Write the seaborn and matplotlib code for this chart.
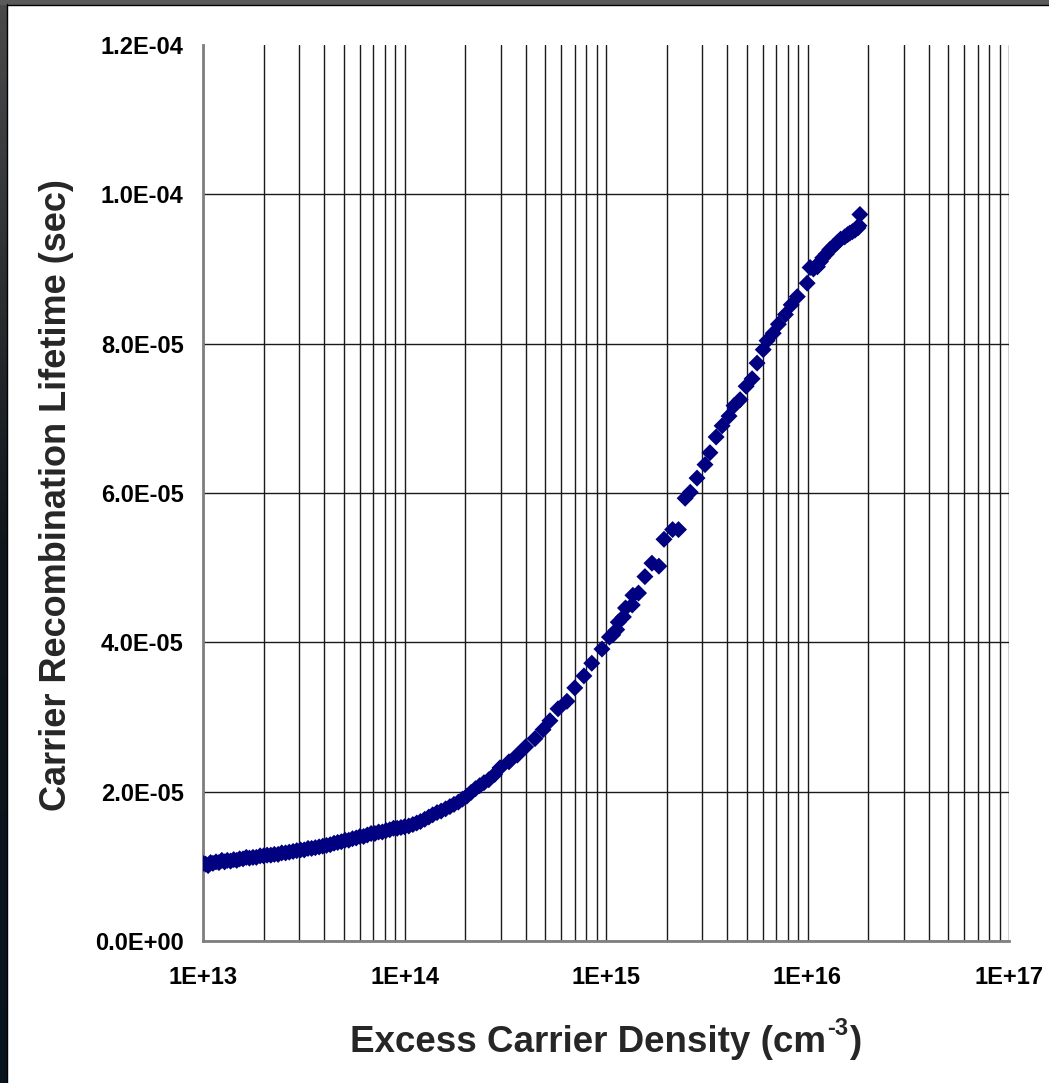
import numpy as np
import pandas as pd
import matplotlib
matplotlib.use('Agg')
import matplotlib.pyplot as plt
import seaborn as sns
from matplotlib.patches import Rectangle
from matplotlib.lines import Line2D
from matplotlib.ticker import LogLocator, NullFormatter

# excess carrier density (cm^-3) and lifetime (microseconds)
density = [
    1.00e13, 1.03e13, 1.06e13, 1.09e13, 1.12e13, 1.16e13, 1.20e13, 1.24e13, 1.28e13, 1.32e13,
    1.37e13, 1.42e13, 1.47e13, 1.52e13, 1.58e13, 1.64e13, 1.70e13, 1.77e13, 1.84e13, 1.92e13,
    2.00e13, 2.08e13, 2.17e13, 2.26e13, 2.36e13, 2.46e13, 2.57e13, 2.68e13, 2.80e13, 2.92e13,
    3.05e13, 3.18e13, 3.32e13, 3.46e13, 3.61e13, 3.77e13, 3.93e13, 4.10e13, 4.28e13, 4.47e13,
    4.66e13, 4.86e13, 5.07e13, 5.29e13, 5.52e13, 5.76e13, 6.01e13, 6.27e13, 6.54e13, 6.83e13,
    7.13e13, 7.44e13, 7.76e13, 8.10e13, 8.45e13, 8.82e13, 9.20e13, 9.60e13, 1.00e14, 1.05e14,
    1.10e14, 1.15e14, 1.20e14, 1.26e14, 1.32e14, 1.38e14, 1.45e14, 1.52e14, 1.60e14, 1.68e14,
    1.76e14, 1.85e14, 1.94e14, 2.04e14, 2.14e14, 2.25e14, 2.36e14, 2.48e14, 2.62e14, 2.80e14,
    2.98e14, 3.30e14, 3.63e14, 3.99e14, 4.44e14, 4.87e14, 5.27e14, 5.78e14, 6.40e14, 7.00e14,
    7.77e14, 8.50e14, 9.55e14, 1.04e15, 1.08e15, 1.13e15, 1.15e15, 1.22e15, 1.25e15, 1.35e15,
    1.36e15, 1.45e15, 1.56e15, 1.69e15, 1.83e15, 1.94e15, 2.14e15, 2.29e15, 2.47e15, 2.62e15,
    2.83e15, 3.10e15, 3.28e15, 3.52e15, 3.77e15, 4.08e15, 4.32e15, 4.63e15, 4.96e15, 5.31e15,
    5.62e15, 6.03e15, 6.30e15, 6.76e15, 7.17e15, 7.77e15, 8.30e15, 8.90e15, 9.96e15, 1.03e16,
    1.07e16, 1.12e16, 1.16e16, 1.19e16, 1.24e16, 1.29e16, 1.34e16, 1.40e16, 1.46e16, 1.53e16,
    1.58e16, 1.62e16, 1.67e16, 1.72e16, 1.78e16, 1.80e16, 1.82e16,
]
lifetime_us = [
    10.4, 10.3, 10.1, 10.5, 10.4, 10.6, 10.5, 10.8, 10.6, 10.8,
    10.7, 10.9, 10.8, 11.0, 11.0, 11.2, 11.1, 11.2, 11.2, 11.4,
    11.4, 11.5, 11.5, 11.6, 11.6, 11.8, 11.8, 11.9, 12.0, 12.1,
    12.2, 12.2, 12.4, 12.4, 12.5, 12.6, 12.7, 12.8, 12.9, 13.1,
    13.2, 13.3, 13.5, 13.5, 13.7, 13.8, 14.0, 14.0, 14.2, 14.4,
    14.4, 14.6, 14.6, 14.8, 14.9, 15.1, 15.1, 15.2, 15.3, 15.4,
    15.6, 15.8, 16.0, 16.3, 16.6, 16.9, 17.2, 17.4, 17.7, 18.0,
    18.3, 18.6, 19.0, 19.4, 19.9, 20.4, 20.8, 21.2, 21.6, 22.3,
    23.2, 24.0, 24.9, 26.0, 27.1, 28.3, 29.5, 31.1, 32.1, 33.9,
    35.5, 37.2, 39.1, 40.7, 41.0, 41.7, 42.7, 43.4, 44.6, 45.0,
    46.3, 46.6, 48.8, 50.6, 50.2, 53.8, 55.1, 55.1, 59.3, 60.1,
    62.0, 63.8, 65.4, 67.5, 69.0, 70.3, 71.7, 72.5, 74.3, 75.3,
    77.4, 79.2, 80.4, 81.4, 82.6, 83.9, 85.2, 86.3, 88.1, 90.2,
    90.0, 90.3, 91.0, 91.5, 92.0, 92.6, 93.0, 93.5, 94.0, 94.3,
    94.6, 94.8, 95.0, 95.2, 95.5, 95.8, 97.3,
]

x_ticks = [1e13, 1e14, 1e15, 1e16, 1e17]
x_tick_labels = ['1E+13', '1E+14', '1E+15', '1E+16', '1E+17']
y_ticks = [0, 2e-5, 4e-5, 6e-5, 8e-5, 1e-4, 1.2e-4]
y_tick_labels = ['0.0E+00', '2.0E-05', '4.0E-05', '6.0E-05', '8.0E-05', '1.0E-04', '1.2E-04']

df = pd.DataFrame({'density': density, 'lifetime': np.array(lifetime_us) * 1e-6})

sns.set_style('white')
plt.rcParams['font.family'] = ['Liberation Sans', 'DejaVu Sans']

W, H = 1049, 1083
fig = plt.figure(figsize=(W / 100, H / 100), dpi=100)
fig.patch.set_facecolor('white')

# dark frame on left and top edges
gax = fig.add_axes([0, 0, 7 / W, 1])
grad = np.linspace(0, 1, 256).reshape(-1, 1)
gax.imshow(grad, aspect='auto', cmap=matplotlib.colors.LinearSegmentedColormap.from_list(
    'fr', ['#4a4a4a', '#10161c', '#08141e']))
gax.axis('off')
fig.add_artist(Rectangle((0, 1 - 4 / H), 1, 4 / H, transform=fig.transFigure,
                         color='#5a5a5a', zorder=5))
fig.add_artist(Line2D([7 / W, 7 / W], [0, 1 - 4 / H], transform=fig.transFigure,
                      color='black', lw=1, zorder=6))
fig.add_artist(Line2D([7 / W, 1], [1 - 4.5 / H, 1 - 4.5 / H], transform=fig.transFigure,
                      color='black', lw=1, zorder=6))

ax = fig.add_axes([203 / W, 1 - 941 / H, 806 / W, 896 / H])
sns.scatterplot(data=df, x='density', y='lifetime', marker='D', s=75, color='#000080',
                edgecolor='none', linewidth=0, ax=ax, zorder=3)
ax.set_xscale('log')
ax.set_xlim(1e13, 1e17)
ax.set_ylim(0, 1.2e-4)
ax.set_xticks(x_ticks)
ax.set_xticklabels(x_tick_labels, fontsize=17, fontweight='bold')
ax.xaxis.set_minor_locator(LogLocator(base=10, subs=np.arange(2, 10), numticks=100))
ax.xaxis.set_minor_formatter(NullFormatter())
ax.set_yticks(y_ticks)
ax.set_yticklabels(y_tick_labels, fontsize=17, fontweight='bold')
ax.set_xlabel('')
ax.set_ylabel('')

ax.set_axisbelow(True)
ax.grid(True, which='both', axis='x', color='#1a1a1a', lw=1)
ax.grid(True, which='major', axis='y', color='#1a1a1a', lw=1)
ax.yaxis.get_major_ticks()[-1].gridline.set_visible(False)

for s in ['top', 'right']:
    ax.spines[s].set_visible(False)
for s in ['left', 'bottom']:
    ax.spines[s].set_color('#7f7f7f')
    ax.spines[s].set_linewidth(2)

ax.tick_params(axis='both', which='major', direction='out', length=6, width=1.5,
               color='#7f7f7f', labelcolor='black')
ax.tick_params(axis='y', which='major', pad=8)
ax.tick_params(axis='x', which='major', pad=12)
ax.tick_params(axis='x', which='minor', length=0)

fig.text(57 / W, 1 - 495 / H, 'Carrier Recombination Lifetime (sec)', rotation=90,
         ha='center', va='center', fontsize=26, fontweight='bold')

# x label built from pieces so the superscript keeps a plain hyphen
renderer = fig.canvas.get_renderer()
base_y = 1 - 1052 / H
t1 = fig.text(0, base_y, 'Excess Carrier Density (cm', ha='left', va='baseline',
              fontsize=26.5, fontweight='bold')
w1 = t1.get_window_extent(renderer).width
t2 = fig.text(0, base_y + 17 / H, '-3', ha='left', va='baseline',
              fontsize=17, fontweight='bold')
w2 = t2.get_window_extent(renderer).width
t3 = fig.text(0, base_y, ')', ha='left', va='baseline', fontsize=26.5, fontweight='bold')
w3 = t3.get_window_extent(renderer).width
start = 606 - (w1 + w2 + w3 + 2) / 2
t1.set_x(start / W)
t2.set_x((start + w1 + 1) / W)
t3.set_x((start + w1 + w2 + 2) / W)

fig.savefig('out.png', dpi=100)
